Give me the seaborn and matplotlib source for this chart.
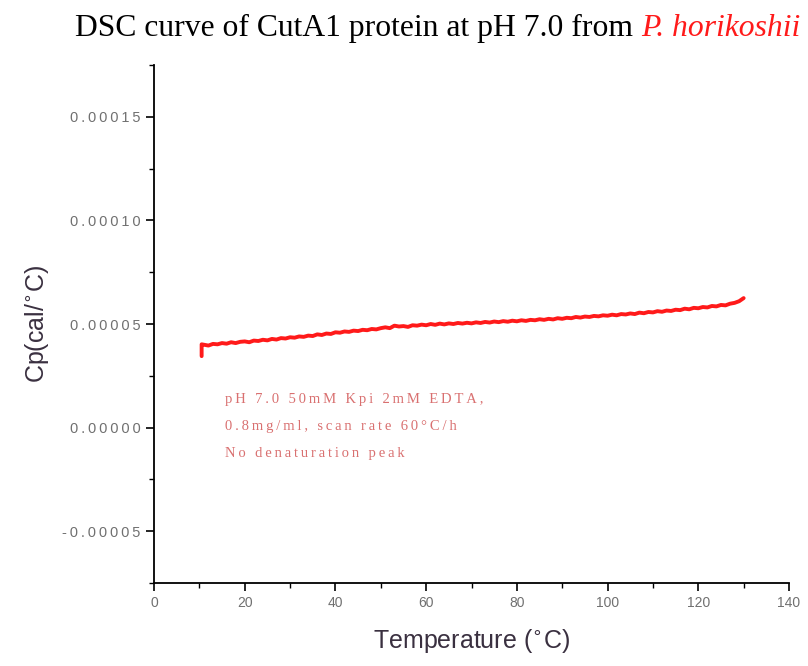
import matplotlib
matplotlib.use("Agg")
import matplotlib.pyplot as plt
import matplotlib.ticker as mticker
import numpy as np
import pandas as pd
import seaborn as sns

# DSC trace (Cp in units of 1e-5 cal/°C)
start_temp = [10.5, 10.5]
start_cp = [3.45, 4.02]
temp = list(range(11, 131))
cp = [
    4.00, 3.96, 4.04, 4.02, 4.08, 4.05, 4.12, 4.08, 4.14, 4.16,
    4.12, 4.20, 4.18, 4.24, 4.21, 4.28, 4.25, 4.32, 4.30, 4.36,
    4.34, 4.40, 4.38, 4.44, 4.42, 4.50, 4.47, 4.54, 4.52, 4.60,
    4.58, 4.64, 4.62, 4.68, 4.66, 4.72, 4.70, 4.76, 4.74, 4.80,
    4.84, 4.80, 4.92, 4.88, 4.90, 4.86, 4.94, 4.92, 4.97, 4.94,
    5.00, 4.96, 5.02, 4.98, 5.03, 5.00, 5.05, 5.02, 5.06, 5.03,
    5.08, 5.05, 5.10, 5.07, 5.12, 5.09, 5.14, 5.11, 5.16, 5.13,
    5.18, 5.15, 5.20, 5.18, 5.23, 5.20, 5.25, 5.22, 5.28, 5.25,
    5.30, 5.28, 5.34, 5.31, 5.36, 5.34, 5.39, 5.37, 5.42, 5.40,
    5.45, 5.42, 5.48, 5.46, 5.51, 5.48, 5.55, 5.52, 5.58, 5.56,
    5.62, 5.59, 5.65, 5.63, 5.69, 5.67, 5.74, 5.71, 5.78, 5.76,
    5.82, 5.80, 5.87, 5.85, 5.92, 5.90, 5.98, 6.02, 6.10, 6.25,
]
y_ticks = [-0.00005, 0.0, 0.00005, 0.00010, 0.00015]
x_ticks = [0, 20, 40, 60, 80, 100, 120, 140]
note_lines = [
    "pH 7.0 50mM Kpi 2mM EDTA,",
    "0.8mg/ml, scan rate 60°C/h",
    "No denaturation peak",
]

TS = "\u2009"  # thin space, used to mimic the wide letter spacing


def spaced(s):
    return TS.join(s)


df = pd.DataFrame({
    "T": start_temp + temp,
    "Cp": [v * 1e-5 for v in start_cp + cp],
})

sns.set_style("ticks")
plt.rcParams["font.family"] = ["Liberation Sans", "DejaVu Sans"]

fig = plt.figure(figsize=(8.08, 6.66), dpi=100)
ax = fig.add_axes([0.1906, 0.1246, 0.7859, 0.7778])

sns.lineplot(data=df, x="T", y="Cp", sort=False, estimator=None,
             color="#ff1a1a", linewidth=2.8, ax=ax)

ax.set_xlim(0, 140)
ax.set_ylim(-0.000075, 0.000175)
ax.set_xticks(x_ticks)
ax.set_yticks(y_ticks)
ax.xaxis.set_minor_locator(mticker.MultipleLocator(10))
ax.yaxis.set_minor_locator(mticker.MultipleLocator(0.000025))
ax.yaxis.set_major_formatter(mticker.FuncFormatter(lambda v, p: spaced(f"{v:.5f}")))
ax.tick_params(which="major", length=6, width=1.2, direction="out",
               labelsize=10.5, labelcolor="#707070", color="black")
ax.tick_params(axis="x", labelsize=10)
ax.tick_params(which="minor", length=3.5, width=1.0, direction="out", color="black")
sns.despine(ax=ax)
for s in ["left", "bottom"]:
    ax.spines[s].set_linewidth(1.3)
    ax.spines[s].set_color("black")

ax.set_xlabel(r"Temperature ($^{\circ}$C)", fontsize=18, color="#3a3040", labelpad=12)
ax.set_ylabel(r"Cp(cal/$^{\circ}$C)", fontsize=18, color="#3a3040", labelpad=8)

for i, line in enumerate(note_lines):
    ax.text(0.112, 0.348 - i * 0.052, spaced(line), transform=ax.transAxes,
            family=["Liberation Serif", "DejaVu Serif"], fontsize=10.5, color="#d97070")

# title with italic red species name
t1 = fig.text(0.093, 0.946, "DSC curve of CutA1 protein at pH 7.0 from ",
              family="Liberation Serif", fontsize=22.8, color="black", va="baseline")
fig.canvas.draw()
bb = t1.get_window_extent()
x_end = bb.x1 / fig.bbox.width
fig.text(x_end, 0.946, "P. horikoshii", family="Liberation Serif", style="italic",
         fontsize=22.8, color="#ff1a1a", va="baseline")

fig.savefig("out.png", dpi=100)
